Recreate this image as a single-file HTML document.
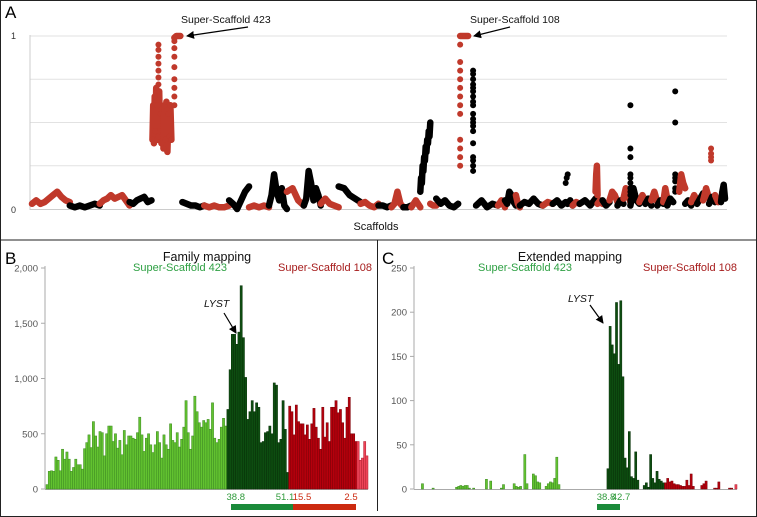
<!DOCTYPE html>
<html><head><meta charset="utf-8"><style>
html,body{margin:0;padding:0;background:#fff;}
svg{display:block;font-family:"Liberation Sans",sans-serif;}
</style></head><body>
<svg id="fig" width="757" height="517" viewBox="0 0 757 517">
<defs><marker id="ah" markerWidth="8" markerHeight="8" refX="7" refY="4" orient="auto" markerUnits="userSpaceOnUse"><path d="M0,0 L8,4 L0,8 z" fill="#000"/></marker></defs>
<rect x="0.5" y="0.5" width="756" height="516" fill="none" stroke="#222"/>
<line x1="0" y1="240" x2="757" y2="240" stroke="#222"/>
<line x1="377.5" y1="240" x2="377.5" y2="511" stroke="#222"/>
<text x="5" y="18" font-size="17">A</text>
<text x="5" y="264" font-size="17">B</text>
<text x="382" y="264" font-size="17">C</text>
<g id="pa"></g>
<g id="pb"></g>
<g id="pc"></g>
</svg>
<script>
// ---------- Panel A data ----------
const segStart = [2,40,70,100,123,129,134,145,145,153,175,200,220,240,258,275,292,310,332,350,363,375,383,392,402,408,432,432,445,448,470,477,488,492,515,525,538,540,545,552,568,570,575,582,590,596,603,603,612,618,624,630,636,640,648,652,658,664,670,676,682,684,688,694];
const segEnd   = [40,70,100,122,132,129,142,145,151,175,200,220,240,258,275,292,310,332,350,363,375,383,392,402,408,430,432,440,445,470,477,488,492,515,525,538,540,545,552,568,570,575,582,590,596,603,603,612,618,624,630,636,640,646,648,658,664,670,676,682,688,684,694,698];
const segColor = ['r','k','r','k','r','r','r','r','r','k','r','k','r','k','r','k','r','k','r','k','r','k','r','k','r','k','r','r','k','k','r','k','r','k','r','k','k','k','r','k','r','r','k','r','k','r','k','k','r','k','r','k','r','k','k','r','k','r','k','r','k','r','r','k'];
const segStyle = ['l','l','l','l','l','d','l','d','l','l','l','l','l','l','l','l','l','l','l','l','l','l','l','l','l','l','d','l','d','l','l','l','l','l','l','l','d','l','l','l','l','l','l','l','l','l','d','l','l','l','l','l','l','l','d','l','l','l','l','l','l','d','l','l'];
const segVals = [
 [0.03,0.05,0.03,0.04,0.06,0.08,0.1,0.07,0.05,0.04],
 [0.02,0.01,0.02,0.01,0.02,0.03,0.02],
 [0.03,0.05,0.06,0.08,0.06,0.07,0.08,0.05,0.02],
 [0.04,0.03,0.05,0.06,0.07,0.04,0.05],
 [0.4,0.6,0.38,0.65,0.45,0.7,0.4,0.6,0.42,0.68,0.45,0.55,0.38],
 [0.72,0.76,0.8,0.84,0.88,0.92,0.95],
 [0.35,0.6,0.4,0.62,0.33,0.55,0.42,0.6,0.4],
 [0.6,0.65,0.7,0.75,0.82,0.88,0.93,0.97],
 [0.99,1,1,1],
 [0.04,0.03,0.02,0.02,0.01,0.02],
 [0.02,0.01,0.02,0.01,0.01,0.02],
 [0.05,0.03,0.0,0.05,0.1,0.13],
 [0.01,0.02,0.01,0.02,0.01],
 [0.02,0.08,0.2,0.1,0.05,0.12,0.02,0.0],
 [0.1,0.12,0.05,0.02],
 [0.02,0.06,0.22,0.15,0.05,0.12,0.08,0.02],
 [0.03,0.06,0.03,0.02,0.01],
 [0.13,0.12,0.08,0.06,0.04],
 [0.03,0.04,0.02,0.01,0.03],
 [0.02,0.02,0.01,0.02],
 [0.01,0.03,0.1,0.03,0.01],
 [0.01,0.01,0.02],
 [0.01,0.05,0.01],
 [0.1,0.18,0.15,0.25,0.22,0.3,0.28,0.36,0.33,0.4,0.38,0.45,0.42,0.5],
 [0.03,0.02,0.02],
 [0.06,0.03,0.05,0.02,0.01,0.03],
 [0.25,0.3,0.35,0.4,0.55,0.6,0.65,0.7,0.75,0.8,0.85,0.95],
 [1,1,1,1],
 [0.22,0.25,0.28,0.3,0.38,0.45,0.48,0.5,0.52,0.55,0.6,0.62,0.65,0.68,0.7,0.72,0.75,0.78,0.8],
 [0.02,0.05,0.01,0.03,0.02],
 [0.02,0.05,0.01],
 [0.05,0.03,0.1,0.08,0.04,0.02],
 [0.08,0.03,0.01],
 [0.02,0.04,0.03,0.06,0.03,0.02],
 [0.02,0.04,0.03],
 [0.03,0.05,0.02,0.04],
 [0.15,0.18,0.2],
 [0.03,0.05,0.02],
 [0.02,0.04,0.03],
 [0.03,0.05,0.02,0.06],
 [0.1,0.2,0.25,0.08],
 [0.03,0.05,0.03],
 [0.05,0.02,0.04],
 [0.05,0.1,0.08,0.04],
 [0.02,0.05,0.03],
 [0.06,0.12,0.08,0.04],
 [0.6,0.35,0.3,0.2,0.18,0.15,0.12,0.1,0.08,0.05],
 [0.02,0.12,0.05,0.03],
 [0.04,0.08,0.05],
 [0.03,0.06,0.02],
 [0.05,0.1,0.04],
 [0.02,0.05,0.03],
 [0.04,0.12,0.06],
 [0.02,0.06,0.04],
 [0.68,0.5,0.2,0.18,0.16,0.12,0.1],
 [0.1,0.2,0.15,0.12],
 [0.03,0.05,0.02],
 [0.04,0.08,0.05],
 [0.03,0.06,0.09],
 [0.05,0.12,0.06],
 [0.03,0.07,0.04],
 [0.28,0.3,0.32,0.35],
 [0.08,0.04,0.05],
 [0.04,0.1,0.14,0.06]
];
// ---------- Panel B data ----------
const famLight = [40,160,165,160,290,260,165,360,270,335,270,160,195,270,220,220,180,365,420,490,375,610,480,380,520,510,300,500,570,570,430,500,370,440,310,530,400,480,480,460,450,510,650,490,340,460,500,400,330,400,520,420,280,490,400,360,590,440,420,510,380,450,560,800,510,360,480,840,700,600,560,620,600,630,540,780,460,420,450,560,640,570];
const famDark = [720,1080,1400,1400,1310,1420,1840,1370,1010,630,700,800,700,780,740,420,430,510,520,570,500,960,940,420,450,800,540,150];
const famRed = [750,700,490,760,610,590,590,490,580,450,590,730,560,460,360,740,470,600,430,740,740,800,690,720,600,460,740,830,500,500,430];
const famPink = [430,260,280,430,300];
const famTicks = [0,500,1000,1500,2000];
const famTickLabels = ['0','500','1,000','1,500','2,000'];
// ---------- Panel C data ----------
const extLight = [0,0,0,6,0,0,0,0,1,0,0,0,0,0,0,0,0,0,0,2,3,4,3,4,4,1,0,1,0,0,0,0,0,11,0,9,0,0,0,0,1,5,0,0,0,0,6,3,2,3,0,39,6,0,0,17,15,8,7,0,0,3,6,8,7,12,36,5];
const extGap = [0,0,0,0,0,0,0,0,0,0,0,0,0,0,0,0,0,0,0,0,0,0];
const extDark = [23,184,163,153,211,141,213,127,35,24,65,14,12,42,10,0,0,4,7,2,39,12,7,20,11,9,7];
const extRed = [7,12,8,9,6,5,5,4,3,3,10,4,17,3,0,0,0,4,6,9,0,0,0,1,1,8,0,0,0,0,1,1,0];
const extPink = [5];
const extTicks = [0,50,100,150,200,250];
const extTickLabels = ['0','50','100','150','200','250'];

const NS='http://www.w3.org/2000/svg';
function mk(parent,tag,attrs,text){const e=document.createElementNS(NS,tag);for(const k in attrs)e.setAttribute(k,attrs[k]);if(text!==undefined)e.textContent=text;parent.appendChild(e);return e;}

// ---------- Panel A ----------
(function(){
 const g=document.getElementById('pa');
 const x0=30,x1=727,yTop=36,yBot=209;
 const xs=v=>x0+v/700*(x1-x0);
 const ys=v=>yBot-v*(yBot-yTop);
 [0.25,0.5,0.75,1].forEach(t=>{
  const l=mk(g,'line',{x1:x0,x2:x1,y1:ys(t),y2:ys(t),stroke:'#e2e2e2','stroke-width':1});
  
  
 });
 const ax=mk(g,'line',{x1:x0,x2:x0,y1:yTop-1,y2:yBot+1,stroke:'#ccc'});
 
 const bl=mk(g,'line',{x1:x0,x2:x1,y1:yBot+0.5,y2:yBot+0.5,stroke:'#ccc'});
 
 const t1=mk(g,'text',{x:16,y:yTop+3,'font-size':9,fill:'#333','text-anchor':'end'},'1');
 
 const t0=mk(g,'text',{x:16,y:yBot+4,'font-size':9,fill:'#333','text-anchor':'end'},'0');
 
 const xl=mk(g,'text',{x:376,y:230,'font-size':11,'text-anchor':'middle',fill:'#111'},'Scaffolds');
 
 segVals.forEach((vals,i)=>{
  const col=segColor[i]==='r'?'#c0392b':'#000';
  const n=vals.length;
  const pts=vals.map((v,j)=>[xs(segStart[i]+(segEnd[i]-segStart[i])*(n>1?j/(n-1):0.5)),ys(v)]);
  const s=mk(g,'g',{});
  
  
  if(segStyle[i]==='l'){
   mk(s,'polyline',{points:pts.map(p=>p.join(',')).join(' '),fill:'none',stroke:col,'stroke-width':6.5,'stroke-linecap':'round','stroke-linejoin':'round'});
  }
  pts.forEach(p=>{
   const c=mk(s,'circle',{cx:p[0],cy:p[1],r:3,fill:col});
   
   
  });
 });
 const a1=mk(g,'text',{x:181,y:23,'font-size':10.5,fill:'#111'},'Super-Scaffold 423');
 
 mk(g,'line',{x1:248,y1:27,x2:187,y2:36,stroke:'#000','stroke-width':1.2,'marker-end':'url(#ah)'});
 const a2=mk(g,'text',{x:470,y:23,'font-size':10.5,fill:'#111'},'Super-Scaffold 108');
 
 mk(g,'line',{x1:510,y1:27,x2:474,y2:36,stroke:'#000','stroke-width':1.2,'marker-end':'url(#ah)'});
})();

// ---------- bar panel builder ----------
function barPanel(g,cfg){
 const yB=489,yT=268;
 const ys=v=>yB-v/cfg.max*(yB-yT);
 const ttl=mk(g,'text',{x:cfg.titleX,y:261,'font-size':12.5,'text-anchor':'middle',fill:'#111'},cfg.title);
 
 const ax=mk(g,'line',{x1:cfg.axX,x2:cfg.axX,y1:yT-2,y2:yB,stroke:'#aaa','stroke-width':1});
 
 const bx=mk(g,'line',{x1:cfg.axX,x2:cfg.x1,y1:yB+0.5,y2:yB+0.5,stroke:'#aaa'});
 
 cfg.ticks.forEach((t,i)=>{
  mk(g,'line',{x1:cfg.axX-4,x2:cfg.axX,y1:ys(t),y2:ys(t),stroke:'#aaa'});
  const tl=mk(g,'text',{x:cfg.axX-7,y:ys(t)+3.5,'font-size':9.5,'text-anchor':'end',fill:'#555'},cfg.labels[i]);
  
  
 });
 const groups=cfg.groups;
 const total=groups.reduce((a,gr)=>a+gr.vals.length,0);
 const w=(cfg.x1-cfg.x0)/total;
 let k=0;
 groups.forEach(gr=>{
  gr.vals.forEach(v=>{
   if(v>0){
    const r=mk(g,'rect',{x:cfg.x0+k*w,y:ys(v),width:w,height:yB-ys(v),fill:gr.fill,stroke:gr.stroke,'stroke-width':0.5});
    
    
   }
   k++;
  });
 });
 const lg=mk(g,'text',{x:cfg.gLabX,y:271,'font-size':11,'text-anchor':'middle',fill:'#2ea043'},'Super-Scaffold 423');
 
 const lr=mk(g,'text',{x:cfg.rLabX,y:271,'font-size':11,'text-anchor':'middle',fill:'#a61c1c'},'Super-Scaffold 108');
 
 const ly=mk(g,'text',{x:cfg.lyst[0],y:cfg.lyst[1],'font-size':10.5,'font-style':'italic',fill:'#111'},'LYST');
 
 mk(g,'line',{x1:cfg.arrow[0],y1:cfg.arrow[1],x2:cfg.arrow[2],y2:cfg.arrow[3],stroke:'#000','stroke-width':1.2,'marker-end':'url(#ah)'});
 cfg.marks.forEach(m=>{
  const t=mk(g,'text',{x:m[0],y:500,'font-size':9.5,'text-anchor':m[2],fill:m[3]},m[1]);
  
  
 });
 cfg.spans.forEach(s=>{
  const r=mk(g,'rect',{x:s[0],y:504,width:s[1]-s[0],height:6,fill:s[2]});
  
  
 });
}
barPanel(document.getElementById('pb'),{
 title:'Family mapping',titleX:207,axX:45,x0:46,x1:368,max:2000,ticks:famTicks,labels:famTickLabels,
 groups:[{vals:famLight,fill:'#62c230',stroke:'#3d8a22'},{vals:famDark,fill:'#0d4d10',stroke:'#083008'},{vals:famRed,fill:'#b5000c',stroke:'#7a0008'},{vals:famPink,fill:'#ee4458',stroke:'#b02030'}],
 gLabX:180,rLabX:325,lyst:[204,307],arrow:[224,313,236,333],
 marks:[[245,'38.8','end','#2e9a3a'],[285,'51.1','middle','#2e9a3a'],[302,'15.5','middle','#cc2a10'],[351,'2.5','middle','#cc2a10']],
 spans:[[231,293,'#1a8a3a'],[293,356,'#cc2a10']]
});
barPanel(document.getElementById('pc'),{
 title:'Extended mapping',titleX:570,axX:414,x0:415,x1:737,max:250,ticks:extTicks,labels:extTickLabels,
 groups:[{vals:extLight,fill:'#62c230',stroke:'#3d8a22'},{vals:extGap,fill:'#62c230',stroke:'#3d8a22'},{vals:extDark,fill:'#0d4d10',stroke:'#083008'},{vals:extRed,fill:'#b5000c',stroke:'#7a0008'},{vals:extPink,fill:'#ee4458',stroke:'#b02030'}],
 gLabX:525,rLabX:690,lyst:[568,302],arrow:[590,305,603,323],
 marks:[[606,'38.8','middle','#2e9a3a'],[621,'42.7','middle','#2e9a3a']],
 spans:[[597,620,'#1a8a3a']]
});
</script>
</body></html>
